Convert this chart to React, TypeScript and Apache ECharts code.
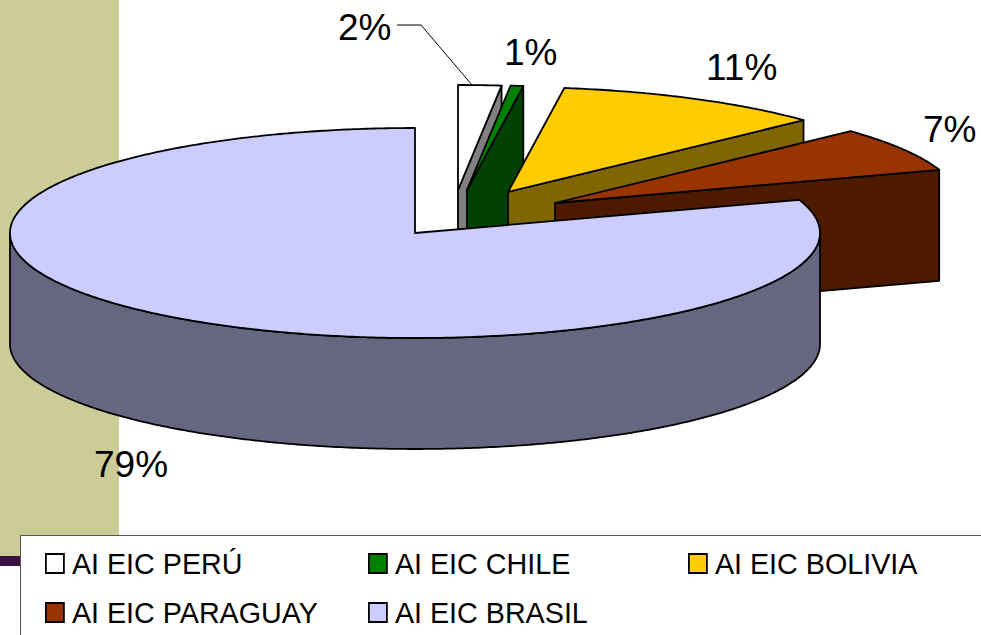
import React, { useEffect, useRef } from "react";
import * as echarts from "echarts";

const categories = ["AI EIC PERÚ", "AI EIC CHILE", "AI EIC BOLIVIA", "AI EIC PARAGUAY", "AI EIC BRASIL"];
const values = [1.7, 0.5, 10.7, 6.8, 79.4];

const topColors = ["#FFFFFF", "#008000", "#FFCC00", "#993300", "#CCCCFF"];
const sideColors = ["#808080", "#004000", "#806600", "#4D1A00", "#666680"];

// layout of the drawn pie
const CX = 415, CY = 233, RX = 405, RY = 105, DEPTH = 111;
const explodeOffsets = [[43, -43], [52, -43], [93, -41], [140, -30], [0, 0]];
const labelPositions = [[338, 27], [504, 52], [706, 67], [923, 129], [94, 464]];
const legendPositions = [[45, 549], [368, 549], [688, 549], [45, 598], [368, 598]];
const FONT = '"Liberation Sans", Arial, sans-serif';

const total = values.reduce((a, b) => a + b, 0);
const toAngle = (v: number) => (v / total) * Math.PI * 2;
const startAngles = values.map((_, i) => values.slice(0, i).reduce((s, v) => s + toAngle(v), 0));

const onEllipse = (cx: number, cy: number, t: number) => [cx + RX * Math.sin(t), cy - RY * Math.cos(t)];

function arcPoints(cx: number, cy: number, a: number, b: number) {
  const n = Math.max(2, Math.ceil(Math.abs(b - a) / 0.01));
  const pts: number[][] = [];
  for (let k = 0; k <= n; k++) pts.push(onEllipse(cx, cy, a + ((b - a) * k) / n));
  return pts;
}

const lineStyle = (fill: string) => ({ fill, stroke: "#000", lineWidth: 1.8, lineJoin: "round" as const });

function makeRenderItem(i: number) {
  return (_params: any, api: any) => {
    const v = api.value(0) as number;
    const [dx, dy] = explodeOffsets[i];
    const cx = CX + dx, cy = CY + dy;
    const a = startAngles[i], b = a + toAngle(v);
    const children: any[] = [];
    // cut face at the slice's end angle, visible when the slice ends on the right half
    if (b < Math.PI) {
      const p = onEllipse(cx, cy, b);
      children.push({
        type: "polygon",
        shape: { points: [[cx, cy], p, [p[0], p[1] + DEPTH], [cx, cy + DEPTH]] },
        style: lineStyle(sideColors[i]),
      });
    }
    // outer wall: the part of the rim that faces the viewer
    const wa = Math.max(a, Math.PI / 2), wb = Math.min(b, (Math.PI * 3) / 2);
    if (wb > wa) {
      const rim = arcPoints(cx, cy, wa, wb);
      const low = rim.map((p) => [p[0], p[1] + DEPTH]).reverse();
      children.push({ type: "polygon", shape: { points: rim.concat(low) }, style: lineStyle(sideColors[i]) });
    }
    // top face
    children.push({
      type: "polygon",
      shape: { points: [[cx, cy], ...arcPoints(cx, cy, a, b)] },
      style: lineStyle(topColors[i]),
    });
    return { type: "group", children };
  };
}

export default function App() {
  const ref = useRef<HTMLDivElement>(null);
  useEffect(() => {
    const chart = echarts.init(ref.current!, undefined, { renderer: "svg" });
    chart.setOption({
      animation: false,
      backgroundColor: "#FFFFFF",
      legend: categories.map((name, i) => ({
        left: legendPositions[i][0],
        top: legendPositions[i][1],
        padding: 0,
        selectedMode: false,
        itemWidth: 18,
        itemHeight: 19,
        z: 6,
        textStyle: { fontFamily: FONT, fontSize: 28.7, color: "#000", padding: [0, 0, 6, 3] },
        data: [{ name, icon: "rect", itemStyle: { color: topColors[i], borderColor: "#000", borderWidth: 1.8 } }],
      })),
      graphic: [
        { type: "rect", z: 0, silent: true, shape: { x: 0, y: 0, width: 119, height: 556 }, style: { fill: "#CCCC99" } },
        { type: "rect", z: 0, silent: true, shape: { x: 0, y: 556, width: 20, height: 10 }, style: { fill: "#3D1040" } },
        {
          type: "rect", z: 5, silent: true,
          shape: { x: 20.5, y: 535.5, width: 980, height: 120 },
          style: { fill: "#FFFFFF", stroke: "#555555", lineWidth: 1 },
        },
        {
          type: "polyline", z: 5, silent: true,
          shape: { points: [[397, 25], [421, 25], [472, 85]] },
          style: { fill: "none", stroke: "#000", lineWidth: 1 },
        },
        ...values.map((v, i) => ({
          type: "text", z: 6, silent: true,
          x: labelPositions[i][0], y: labelPositions[i][1],
          style: { text: `${Math.round(v)}%`, font: `37px ${FONT}`, fill: "#000", verticalAlign: "middle", align: "left" },
        })),
      ],
      series: categories.map((name, i) => ({
        type: "custom",
        name,
        coordinateSystem: "none",
        silent: true,
        z: 2 + i * 0.1,
        itemStyle: { color: topColors[i] },
        data: [[values[i]]],
        renderItem: makeRenderItem(i),
      })),
    });
    return () => chart.dispose();
  }, []);
  return <div ref={ref} style={{ position: "absolute", left: 0, top: 0, width: 981, height: 635 }} />;
}
